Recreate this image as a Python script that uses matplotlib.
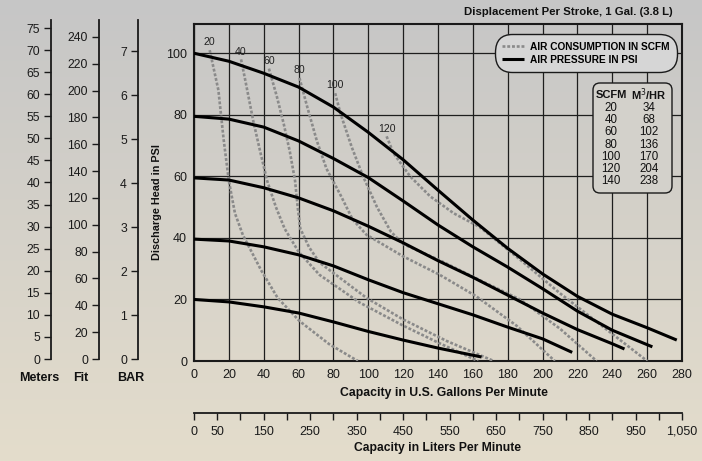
import numpy as np
import matplotlib.pyplot as plt
from matplotlib.patches import FancyBboxPatch
import matplotlib.transforms as mtransforms

W, H = 702, 461

# === Air pressure curves (gpm, psi) ===
p100_gpm = [0, 20, 40, 60, 80, 100, 120, 140, 160, 180, 200, 220, 240, 260, 277]
p100_psi = [100, 97.4, 93.5, 89, 82.5, 74.3, 65.4, 55.5, 45.8, 36.6, 28.3, 21, 15.2, 10.8, 6.8]
p80_gpm = [0, 20, 40, 60, 80, 100, 120, 140, 160, 180, 200, 220, 240, 263]
p80_psi = [79.5, 78.6, 76, 71.5, 65.8, 59.6, 52, 44.2, 37.1, 30.5, 23.5, 16.2, 10, 4.6]
p60_gpm = [0, 20, 40, 60, 80, 100, 120, 140, 160, 180, 200, 220, 240, 247]
p60_psi = [59.5, 58.8, 56.3, 53, 48.8, 43.8, 38.4, 32.6, 27.2, 21.4, 15.6, 10.2, 5.6, 3.9]
p40_gpm = [0, 20, 40, 60, 80, 100, 120, 140, 160, 180, 200, 217]
p40_psi = [39.6, 39, 37.1, 34.5, 30.9, 26.4, 22.2, 18.6, 15, 11, 7.2, 2.8]
p20_gpm = [0, 20, 40, 60, 80, 100, 120, 140, 165]
p20_psi = [20, 19.2, 17.6, 15.6, 12.7, 9.6, 6.8, 4.2, 1.3]

# === Air consumption curves (gpm, psi) ===
s20_gpm = [9, 14, 17, 20, 23.5, 28, 38.5, 48, 60.5, 77.5, 94]
s20_psi = [101, 88, 72, 58.5, 48, 41, 29.5, 20.5, 13, 5.5, 0]
s40_gpm = [27, 29.5, 34, 38, 42, 47, 52, 60, 72, 95, 120, 140, 163]
s40_psi = [98, 91, 78, 68, 58.5, 50, 43, 35.5, 28, 19, 11.5, 6, 0]
s60_gpm = [43, 47.5, 51.5, 55, 58, 59.5, 61, 66, 72, 99, 120, 145, 172]
s60_psi = [95, 86, 77, 68, 58.5, 50, 43, 37, 32, 20.5, 13.5, 6.5, 0]
s80_gpm = [60.5, 65, 70.5, 76, 84, 91, 99, 120, 141, 162, 185, 207]
s80_psi = [92, 82.5, 71.5, 62.5, 54, 46, 41, 34, 28, 21, 11.5, 0]
s100_gpm = [81, 84, 90.5, 97, 105, 113, 120, 140, 165, 187, 210, 231]
s100_psi = [87, 80.5, 69.5, 60, 50, 42, 38, 33, 26, 20, 10.5, 0]
s120_gpm = [110.5, 114.5, 124, 135.5, 149, 164, 187, 210, 235, 260]
s120_psi = [73, 67.5, 60, 53.5, 48, 43.5, 33, 22, 11, 0]

pressure = [(p20_gpm, p20_psi), (p40_gpm, p40_psi), (p60_gpm, p60_psi),
            (p80_gpm, p80_psi), (p100_gpm, p100_psi)]
scfm_labels = ['20', '40', '60', '80', '100', '120']
air = [(s20_gpm, s20_psi), (s40_gpm, s40_psi), (s60_gpm, s60_psi),
       (s80_gpm, s80_psi), (s100_gpm, s100_psi), (s120_gpm, s120_psi)]

# === Conversion table ===
table_scfm = ['20', '40', '60', '80', '100', '120', '140']
table_m3hr = ['34', '68', '102', '136', '170', '204', '238']

gpm_ticks = list(range(0, 281, 20))
psi_ticks = list(range(0, 101, 20))
lpm_ticks = list(range(0, 1051, 50))
lpm_labels = ['0', '50', '', '150', '', '250', '', '350', '', '450', '', '550', '',
              '650', '', '750', '', '850', '', '950', '', '1,050']
meter_ticks = list(range(0, 76, 5))
feet_ticks = list(range(0, 241, 20))
bar_ticks = list(range(0, 8))

NARROW = ['Liberation Sans Narrow', 'Liberation Sans', 'DejaVu Sans']
plt.rcParams['font.family'] = ['Liberation Sans', 'DejaVu Sans']


def fx(x):
    return x / W


def fy(y):
    return 1 - y / H


fig = plt.figure(figsize=(W / 100, H / 100), dpi=100)

# background gradient
bg = fig.add_axes([0, 0, 1, 1], zorder=-10)
top = np.array([198, 198, 198]) / 255
bot = np.array([228, 221, 204]) / 255
t = np.linspace(0, 1, 256)[:, None]
grad = top[None, :] * (1 - t) + bot[None, :] * t
bg.imshow(grad[:, None, :], aspect='auto', extent=[0, 1, 0, 1])
bg.axis('off')

# === Main chart ===
ax = fig.add_axes([fx(194), fy(361), 488 / W, 337 / H])
ax.patch.set_visible(False)
ax.set_xlim(0, 280)
ax.set_ylim(0, 109.5)
ax.set_xticks(gpm_ticks)
ax.set_yticks(psi_ticks)
ax.grid(True, color='#1e1e1e', lw=0.9)
ax.tick_params(length=0, labelsize=9, colors='#1a1a1a')
ax.tick_params(axis='x', pad=6)
ax.tick_params(axis='y', pad=5)
for s in ax.spines.values():
    s.set_linewidth(1.5)
    s.set_color('#1a1a1a')

for (g, p), lab in zip(air, scfm_labels):
    ax.plot(g, p, color='#8a8a8a', lw=1.9, dashes=(1.1, 0.7), zorder=3)
    ax.annotate(lab, (g[0], p[0]), xytext=(0, 2), textcoords='offset points',
                ha='center', va='bottom', fontsize=7.6, color='#222222', zorder=5)
for g, p in pressure:
    ax.plot(g, p, color='black', lw=2.2, solid_capstyle='butt', solid_joinstyle='round', zorder=4)

air_line = ax.lines[0]
pres_line = ax.lines[-1]
leg = ax.legend([air_line, pres_line], ['AIR CONSUMPTION IN SCFM', 'AIR PRESSURE IN PSI'],
                loc='upper right', bbox_to_anchor=(0.985, 0.963), borderaxespad=0,
                prop={'family': NARROW, 'weight': 'bold', 'size': 7.3},
                handlelength=2.2, handletextpad=0.6, labelspacing=0.3,
                borderpad=0.5, fancybox=True, framealpha=1)
frame = leg.get_frame()
frame.set_boxstyle('round,pad=0.2,rounding_size=1.7')
frame.set_facecolor('#d6d6d6')
frame.set_edgecolor('#1a1a1a')
frame.set_linewidth(1.0)

# table box
box = FancyBboxPatch((593, H - 193), 79, 110, boxstyle='round,pad=0,rounding_size=7',
                     transform=mtransforms.IdentityTransform(),
                     facecolor='#d3d1cb', edgecolor='#1a1a1a', lw=1.0, zorder=1)
fig.add_artist(box)
fig.text(fx(611), fy(95), 'SCFM', ha='center', va='center', fontsize=8,
         family=NARROW, weight='bold', color='#111111', zorder=5)
fig.text(fx(649), fy(95), 'M$^{3}$/HR', ha='center', va='center', fontsize=8,
         family=NARROW, weight='bold', color='#111111', zorder=5)
for i, (a, b) in enumerate(zip(table_scfm, table_m3hr)):
    y = 108 + i * 12.2
    fig.text(fx(611), fy(y), a, ha='center', va='center', fontsize=8.3, family=NARROW,
             color='#111111', zorder=5)
    fig.text(fx(649), fy(y), b, ha='center', va='center', fontsize=8.3, family=NARROW,
             color='#111111', zorder=5)

# === Liters axis ===
lax = fig.add_axes([fx(194), fy(413), 488 / W, 0.0001])
lax.patch.set_visible(False)
lax.set_xlim(0, 1050)
lax.set_yticks([])
for k in ['top', 'left', 'right']:
    lax.spines[k].set_visible(False)
lax.spines['bottom'].set_linewidth(1.3)
lax.spines['bottom'].set_color('#1a1a1a')
lax.set_xticks(lpm_ticks)
lax.set_xticklabels(lpm_labels)
lax.tick_params(axis='x', direction='out', length=5, width=1, labelsize=9, pad=4, colors='#1a1a1a')

# === Head scales on the left ===
def side_axis(x_px, top_val, ticks):
    a = fig.add_axes([fx(x_px), fy(359), 0.0001, 339 / H])
    a.patch.set_visible(False)
    a.set_ylim(0, top_val)
    a.set_xticks([])
    for k in ['top', 'bottom', 'right']:
        a.spines[k].set_visible(False)
    a.spines['left'].set_linewidth(1.3)
    a.spines['left'].set_color('#1a1a1a')
    a.set_yticks(ticks)
    a.tick_params(axis='y', direction='out', length=5, width=1, labelsize=8.8, pad=3, colors='#1a1a1a')
    return a

side_axis(51, 339 / 4.413, meter_ticks)
side_axis(99, 339 / 1.3417, feet_ticks)
side_axis(138, 339 / 44.0, bar_ticks)

bold = dict(family=NARROW, weight='bold', color='#111111')
fig.text(fx(39), fy(378), 'Meters', ha='center', va='center', fontsize=9, **bold)
fig.text(fx(81), fy(378), 'Fit', ha='center', va='center', fontsize=9, **bold)
fig.text(fx(131), fy(378), 'BAR', ha='center', va='center', fontsize=9, **bold)
fig.text(fx(157), fy(202), 'Discharge Head in PSI', rotation=90, ha='center', va='center',
         fontsize=7.8, **bold)
fig.text(fx(444), fy(393), 'Capacity in U.S. Gallons Per Minute', ha='center', va='center',
         fontsize=8.8, **bold)
fig.text(fx(437), fy(448), 'Capacity in Liters Per Minute', ha='center', va='center',
         fontsize=8.7, **bold)
fig.text(fx(673), fy(12), 'Displacement Per Stroke, 1 Gal. (3.8 L)', ha='right', va='center',
         fontsize=8.2, **bold)

fig.savefig('out.png', dpi=100)
